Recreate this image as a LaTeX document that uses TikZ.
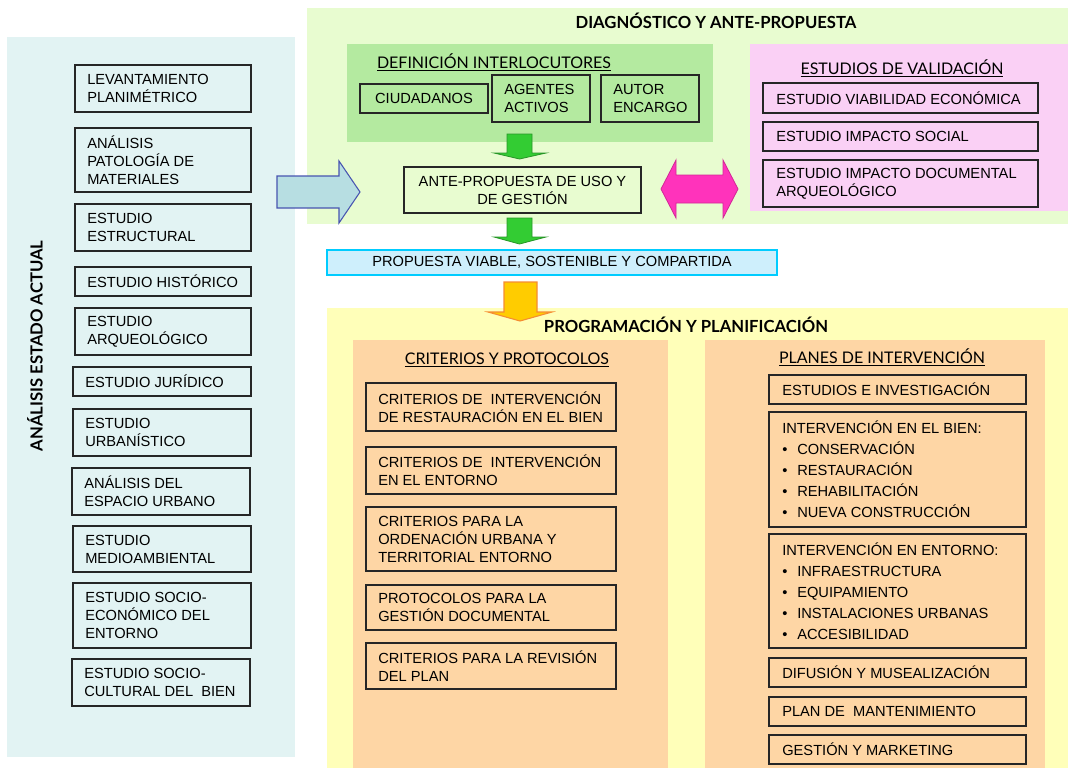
\documentclass[tikz,border=0pt]{standalone}
\usepackage{fontspec}
\setmainfont{Liberation Sans}
\newfontfamily\headfont{Lato}
\usepackage{xcolor}
\usetikzlibrary{positioning}
\definecolor{fondoAzul}{RGB}{226,243,243}
\definecolor{fondoVerde}{RGB}{232,252,208}
\definecolor{fondoVerdeInt}{RGB}{180,234,160}
\definecolor{fondoRosa}{RGB}{250,208,245}
\definecolor{fondoAmarillo}{RGB}{255,255,185}
\definecolor{fondoNaranja}{RGB}{254,214,165}
\definecolor{barraFondo}{RGB}{206,239,252}
\definecolor{barraBorde}{RGB}{0,204,255}
\definecolor{flechaAzul}{RGB}{183,222,226}
\definecolor{bordeAzul}{RGB}{72,84,176}
\definecolor{flechaVerde}{RGB}{51,204,51}
\definecolor{bordeVerde}{RGB}{40,150,40}
\definecolor{flechaRosa}{RGB}{255,51,187}
\definecolor{bordeRosa}{RGB}{210,40,150}
\definecolor{flechaOro}{RGB}{255,204,0}
\definecolor{bordeOro}{RGB}{245,140,50}

\begin{document}
\begin{tikzpicture}[x=0.75pt,y=-0.75pt,
    caja/.style={draw=black!85,line width=0.8pt},
    txt/.style={inner sep=0pt,align=left,font=\fontsize{11}{13.5}\selectfont},
    lista/.style={inner sep=0pt,align=left,font=\fontsize{11}{15.75}\selectfont},
    tit/.style={inner sep=0pt,font=\headfont\bfseries\fontsize{12.5}{14}\selectfont},
    sub/.style={inner sep=0pt,font=\headfont\fontsize{12}{14}\selectfont}]
      \def\pto{\makebox[11.25pt][l]{\textbullet}}

      \useasboundingbox (0,0) rectangle (1070,769);

      % analisis estado actual
      \fill[fondoAzul] (7,37) rectangle (295,757);
      \node[tit,rotate=90] (analisis) at (35,346) {ANÁLISIS ESTADO ACTUAL};

      \draw[caja] (75,65) rectangle ++(176,47);
      \node[txt,right] (lev) at (87,88.5) {LEVANTAMIENTO\\PLANIMÉTRICO};
      \draw[caja] (75,128) rectangle ++(176,64);
      \node[txt,right] (pat) at (87,160) {ANÁLISIS\\PATOLOGÍA DE\\MATERIALES};
      \draw[caja] (75,204) rectangle ++(176,47);
      \node[txt,right] (estr) at (87,227.5) {ESTUDIO\\ESTRUCTURAL};
      \draw[caja] (75,267) rectangle ++(176,29);
      \node[txt,right] (hist) at (87,281.5) {ESTUDIO HISTÓRICO};
      \draw[caja] (75,308) rectangle ++(176,47);
      \node[txt,right] (arq) at (87,331.5) {ESTUDIO\\ARQUEOLÓGICO};
      \draw[caja] (73,367) rectangle ++(178,29);
      \node[txt,right] (jur) at (85,381.5) {ESTUDIO JURÍDICO};
      \draw[caja] (73,409) rectangle ++(178,47);
      \node[txt,right] (urb) at (85,432.5) {ESTUDIO\\URBANÍSTICO};
      \draw[caja] (72,468) rectangle ++(178,47);
      \node[txt,right] (esp) at (84,491.5) {ANÁLISIS DEL\\ESPACIO URBANO};
      \draw[caja] (73,526) rectangle ++(178,46);
      \node[txt,right] (med) at (85,549) {ESTUDIO\\MEDIOAMBIENTAL};
      \draw[caja] (73,583) rectangle ++(178,65);
      \node[txt,right] (eco) at (85,615.5) {ESTUDIO SOCIO-\\ECONÓMICO DEL\\ENTORNO};
      \draw[caja] (72,659) rectangle ++(178,47);
      \node[txt,right] (cul) at (84,682.5) {ESTUDIO SOCIO-\\CULTURAL DEL~~BIEN};

      % diagnostico y ante-propuesta
      \fill[fondoVerde] (307,8) rectangle (1068,224);
      \node[tit] (diag) at (716,21) {DIAGNÓSTICO Y ANTE-PROPUESTA};

      \fill[fondoVerdeInt] (347,44) rectangle (713,142);
      \node[sub] (defi) at (494,62) {\underline{DEFINICIÓN INTERLOCUTORES}};
      \draw[caja] (360,84) rectangle ++(128,29) node[txt,midway] (ciu) {CIUDADANOS};
      \draw[caja] (492,75) rectangle ++(98,47);
      \node[txt,right] (age) at (504,98.5) {AGENTES\\ACTIVOS};
      \draw[caja] (601,75) rectangle ++(98,47);
      \node[txt,right] (aut) at (613,98.5) {AUTOR\\ENCARGO};

      \draw[caja] (404,167) rectangle ++(237,46) node[txt,midway,align=center] (ante) {ANTE-PROPUESTA DE USO Y\\DE GESTIÓN};

      \fill[fondoRosa] (750,44) rectangle (1068,211);
      \node[sub] (vali) at (902,68) {\underline{ESTUDIOS DE VALIDACIÓN}};
      \draw[caja] (763,83) rectangle ++(275,30);
      \node[txt,right] (viab) at (776,98) {ESTUDIO VIABILIDAD ECONÓMICA};
      \draw[caja] (763,122) rectangle ++(275,29);
      \node[txt,right] (soc) at (776,136.5) {ESTUDIO IMPACTO SOCIAL};
      \draw[caja] (763,160) rectangle ++(275,47);
      \node[txt,right] (doc) at (776,183.5) {ESTUDIO IMPACTO DOCUMENTAL\\ARQUEOLÓGICO};

      % flechas
      \draw[fill=flechaAzul,draw=bordeAzul,line width=0.8pt] (277,176) -- (339,176) -- (339,161) -- (360,192) -- (339,223) -- (339,208) -- (277,208) -- cycle;
      \draw[fill=flechaVerde,draw=bordeVerde,line width=0.6pt] (507,134) -- (532,134) -- (532,153) -- (546,153) -- (519.5,159) -- (494,153) -- (507,153) -- cycle;
      \draw[fill=flechaVerde,draw=bordeVerde,line width=0.6pt] (507,218) -- (532,218) -- (532,237) -- (546,237) -- (519.5,244) -- (494,237) -- (507,237) -- cycle;
      \draw[fill=flechaRosa,draw=bordeRosa,line width=0.6pt] (661,189) -- (676,160) -- (676,175) -- (723,175) -- (723,160) -- (738,189) -- (723,218) -- (723,203) -- (676,203) -- (676,218) -- cycle;

      \draw[fill=barraFondo,draw=barraBorde,line width=1pt] (327,250) rectangle (777,275) node[txt,midway] (prop) {PROPUESTA VIABLE, SOSTENIBLE Y COMPARTIDA};

      % programacion y planificacion
      \fill[fondoAmarillo] (327,308) rectangle (1068,768);
      \draw[fill=flechaOro,draw=bordeOro,line width=0.8pt] (504,282) -- (537,282) -- (537,312) -- (552,312) -- (520,321) -- (488,312) -- (504,312) -- cycle;
      \node[tit] (prog) at (686,325) {PROGRAMACIÓN Y PLANIFICACIÓN};

      \fill[fondoNaranja] (353,340) rectangle (668,768);
      \fill[fondoNaranja] (705,340) rectangle (1045,768);

      \node[sub] (crit) at (507,360) {\underline{CRITERIOS Y PROTOCOLOS}};
      \draw[caja] (366,383) rectangle ++(250,48);
      \node[txt,right] (cr1) at (378,407) {CRITERIOS DE~~INTERVENCIÓN\\DE RESTAURACIÓN EN EL BIEN};
      \draw[caja] (366,447) rectangle ++(250,47);
      \node[txt,right] (cr2) at (378,470.5) {CRITERIOS DE~~INTERVENCIÓN\\EN EL ENTORNO};
      \draw[caja] (366,507) rectangle ++(250,64);
      \node[txt,right] (cr3) at (378,539) {CRITERIOS PARA LA\\ORDENACIÓN URBANA Y\\TERRITORIAL ENTORNO};
      \draw[caja] (366,585) rectangle ++(250,45);
      \node[txt,right] (prot) at (378,607.5) {PROTOCOLOS PARA LA\\GESTIÓN DOCUMENTAL};
      \draw[caja] (366,643) rectangle ++(250,46);
      \node[txt,right] (revi) at (378,666) {CRITERIOS PARA LA REVISIÓN\\DEL PLAN};

      \node[sub] (plan) at (882,357) {\underline{PLANES DE INTERVENCIÓN}};
      \draw[caja] (769,375) rectangle ++(257,29);
      \node[txt,right] (inv) at (782,389.5) {ESTUDIOS E INVESTIGACIÓN};
      \draw[caja] (769,412) rectangle ++(257,115);
      \node[lista,right] (bien) at (782,469.5) {INTERVENCIÓN EN EL BIEN:\\\pto CONSERVACIÓN\\\pto RESTAURACIÓN\\\pto REHABILITACIÓN\\\pto NUEVA CONSTRUCCIÓN};
      \draw[caja] (769,534) rectangle ++(257,114);
      \node[lista,right] (ent) at (782,591) {INTERVENCIÓN EN ENTORNO:\\\pto INFRAESTRUCTURA\\\pto EQUIPAMIENTO\\\pto INSTALACIONES URBANAS\\\pto ACCESIBILIDAD};
      \draw[caja] (769,658) rectangle ++(257,29);
      \node[txt,right] (difu) at (782,672.5) {DIFUSIÓN Y MUSEALIZACIÓN};
      \draw[caja] (769,697) rectangle ++(257,29);
      \node[txt,right] (mant) at (782,711.5) {PLAN DE~~MANTENIMIENTO};
      \draw[caja] (769,735) rectangle ++(257,29);
      \node[txt,right] (mark) at (782,749.5) {GESTIÓN Y MARKETING};
\end{tikzpicture}
\end{document}
